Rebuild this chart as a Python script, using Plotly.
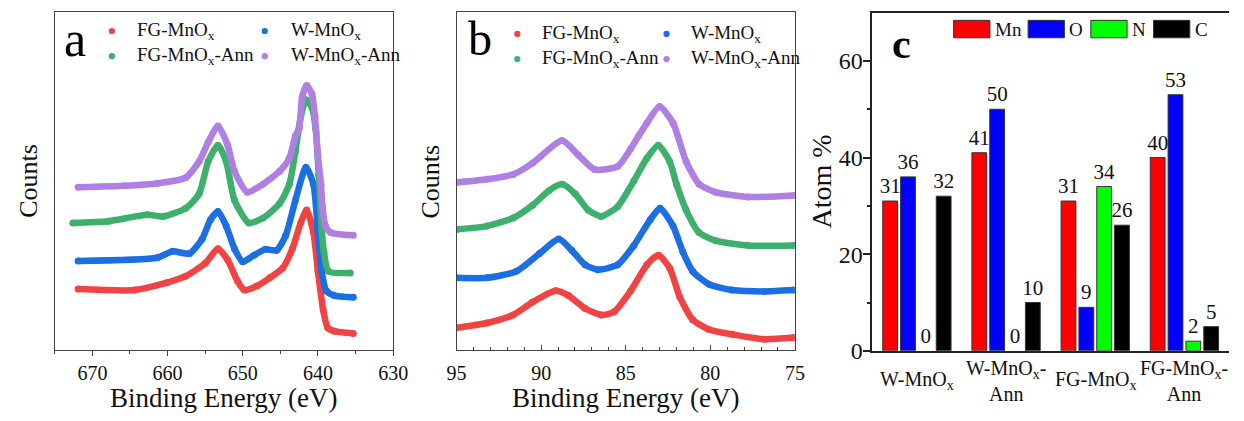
import plotly.graph_objects as go

# ---------------- Mn 2p region (panel a) ----------------
mn2p_be_fg = [671.9, 664.4, 660.1, 657.6, 655.0, 653.3, 652.0, 650.7, 649.8, 648.1, 646.4,
              644.7, 643.4, 642.3, 641.5, 640.6, 640.0, 639.3, 638.7, 637.8, 635.3]
mn2p_fg = [62.7, 61.7, 69.3, 76.0, 89.3, 104.3, 92.7, 71.0, 61.7, 66.0, 74.3,
           84.3, 104.3, 131.0, 144.3, 121.0, 81.0, 41.0, 22.7, 19.3, 17.0]

mn2p_be_w = [671.9, 661.4, 659.3, 657.1, 655.4, 654.3, 653.3, 652.2, 651.1, 650.0, 648.5,
             647.0, 645.5, 644.3, 643.0, 641.6, 640.6, 640.0, 639.5, 638.9, 637.8, 635.3]
mn2p_w = [91.7, 95.0, 101.7, 99.3, 114.3, 134.3, 142.7, 127.7, 104.3, 91.0, 97.7,
          103.7, 102.7, 117.7, 154.3, 188.3, 171.0, 121.0, 81.0, 61.0, 56.0, 54.3]

mn2p_be_fg_ann = [672.6, 667.9, 662.7, 660.6, 657.6, 655.8, 654.6, 653.3, 652.2, 651.1, 649.2,
                  647.3, 645.1, 643.8, 643.0, 642.3, 641.6, 640.8, 640.3, 639.9, 639.5, 639.2,
                  638.6, 635.7]
mn2p_fg_ann = [131.0, 132.7, 139.3, 137.7, 146.0, 161.0, 194.3, 211.0, 194.3, 154.3, 131.0,
               136.0, 151.0, 171.0, 205.0, 240.0, 258.0, 250.0, 228.0, 181.0, 124.3, 101.0,
               81.0, 79.3]

mn2p_be_w_ann = [671.9, 665.7, 661.4, 657.6, 655.8, 654.6, 653.3, 652.0, 651.1, 649.4, 647.3,
                 645.1, 643.8, 643.0, 642.5, 642.1, 641.5, 640.8, 640.4, 640.0, 639.6, 639.4,
                 639.0, 638.3, 635.3]
mn2p_w_ann = [167.7, 169.3, 171.7, 177.7, 194.3, 214.3, 231.0, 211.0, 184.3, 162.7, 171.0,
              184.3, 197.7, 221.0, 228.0, 261.0, 272.7, 264.0, 241.0, 200.0, 171.0, 147.7,
              127.7, 121.0, 118.3]

# ---------------- Mn 3s region (panel b) ----------------
mn3s_be_fg = [95.0, 93.2, 91.66, 90.5, 89.15, 88.38, 87.4, 86.45, 85.68, 84.7, 83.75, 83.07,
              82.4, 81.8, 81.04, 80.08, 78.7, 76.8, 75.06]
mn3s_fg = [22.7, 27.7, 36.0, 49.3, 61.0, 56.0, 42.7, 36.0, 39.3, 61.0, 87.7, 97.7,
           84.3, 54.3, 31.0, 21.0, 16.0, 11.0, 12.7]

mn3s_be_w = [95.0, 93.2, 91.47, 90.1, 88.96, 88.19, 87.4, 86.64, 85.48, 84.52, 83.55, 82.97,
             82.2, 81.62, 81.04, 80.08, 78.73, 76.8, 75.06]
mn3s_w = [74.3, 74.3, 81.0, 99.3, 114.3, 102.7, 87.7, 82.7, 87.7, 107.7, 134.3, 146.0,
          127.7, 101.0, 81.0, 67.7, 61.7, 60.3, 61.7]

mn3s_be_fg_ann = [95.0, 93.2, 91.66, 90.5, 89.54, 88.76, 87.99, 87.22, 86.45, 85.48, 84.52,
                  83.75, 83.07, 82.4, 82.0, 81.43, 80.66, 79.69, 77.76, 75.06]
mn3s_fg_ann = [124.3, 127.7, 136.0, 149.3, 164.3, 171.0, 161.0, 144.3, 137.7, 147.7, 174.3,
               197.7, 211.0, 194.3, 171.0, 144.3, 121.0, 112.7, 107.7, 107.7]

mn3s_be_w_ann = [95.0, 93.2, 91.66, 90.5, 88.76, 87.8, 86.83, 85.48, 84.7, 84.23, 83.75, 83.0,
                 82.2, 81.43, 80.66, 79.69, 77.76, 75.06]
mn3s_w_ann = [172.7, 176.0, 181.0, 192.7, 216.0, 201.0, 186.0, 189.3, 207.7, 221.0, 234.0, 251.0,
              234.0, 194.3, 171.0, 162.7, 157.7, 159.3]

# ---------------- Composition (panel c) ----------------
samples = ["W-MnOx", "W-MnOx-Ann", "FG-MnOx", "FG-MnOx-Ann"]
sample_labels = ["W-MnO<sub>x</sub>", "W-MnO<sub>x</sub>-<br>Ann",
                 "FG-MnO<sub>x</sub>", "FG-MnO<sub>x</sub>-<br>Ann"]
elements = ["Mn", "O", "N", "C"]
atom_mn = [31, 41, 31, 40]
atom_o = [36, 50, 9, 53]
atom_n = [0, 0, 34, 2]
atom_c = [32, 10, 26, 5]

series_names = ["FG-MnO<sub>x</sub>", "W-MnO<sub>x</sub>",
                "FG-MnO<sub>x</sub>-Ann", "W-MnO<sub>x</sub>-Ann"]

# ---------------- styling ----------------
W, H = 1244, 421
FONT = "Times New Roman, Liberation Serif, Tinos, serif"
AX = "#444444"
spec_colors = ["#F04343", "#1C6FE2", "#3CB06C", "#B07FE3"]
bar_colors = ["#FF0000", "#0000FF", "#00FF00", "#000000"]


def px(x):
    return x / W


def py(y):
    return 1 - y / H


fig = go.Figure()

spectra_a = [(mn2p_be_fg, mn2p_fg), (mn2p_be_w, mn2p_w),
             (mn2p_be_fg_ann, mn2p_fg_ann), (mn2p_be_w_ann, mn2p_w_ann)]
spectra_b = [(mn3s_be_fg, mn3s_fg), (mn3s_be_w, mn3s_w),
             (mn3s_be_fg_ann, mn3s_fg_ann), (mn3s_be_w_ann, mn3s_w_ann)]

for (be, cts), name, col in zip(spectra_a, series_names, spec_colors):
    fig.add_trace(go.Scatter(x=be, y=cts, mode="lines+markers", name=name,
                             line=dict(color=col, width=6.5, shape="spline", smoothing=0.6),
                             marker=dict(color=col, size=7), showlegend=False,
                             xaxis="x", yaxis="y"))
for (be, cts), name, col in zip(spectra_b, series_names, spec_colors):
    fig.add_trace(go.Scatter(x=be, y=cts, mode="lines+markers", name=name,
                             line=dict(color=col, width=6.5, shape="spline", smoothing=0.6),
                             marker=dict(color=col, size=7), showlegend=False,
                             xaxis="x2", yaxis="y2"))

for el, vals, col in zip(elements, [atom_mn, atom_o, atom_n, atom_c], bar_colors):
    fig.add_trace(go.Bar(x=list(range(len(samples))), y=vals, name=el,
                         marker=dict(color=col,
                                     line=dict(color="#333333",
                                               width=[1 if v > 0 else 0 for v in vals])),
                         text=vals, texttemplate="%{text}", textposition="outside",
                         constraintext="none",
                         textfont=dict(family=FONT, size=21, color="#111111"),
                         cliponaxis=False, showlegend=False,
                         xaxis="x3", yaxis="y3"))

ydom_ab = [py(361), py(12)]
ydom_c = [py(362), py(13)]

spec_x_common = dict(showline=True, mirror=True, linecolor=AX, linewidth=1.3,
                     showgrid=False, zeroline=False, ticklen=5,
                     tickwidth=1.2, tickcolor=AX,
                     tickfont=dict(family=FONT, size=20, color="#111111"))
spec_y_common = dict(showline=True, mirror=True, linecolor=AX, linewidth=1.3,
                     showgrid=False, zeroline=False, showticklabels=False, ticks="",
                     range=[0, 349])

fig.update_layout(
    width=W, height=H, margin=dict(l=0, r=0, t=0, b=0),
    paper_bgcolor="white", plot_bgcolor="white",
    font=dict(family=FONT, color="#111111"),
    barmode="group", bargap=0.2, bargroupgap=0.17,
    xaxis=dict(domain=[px(45.7), px(391)], range=[675, 630], anchor="y",
               tickvals=[670, 660, 650, 640, 630], ticks="outside",
               minor=dict(dtick=5, ticks="outside", ticklen=3, tickcolor=AX),
               **spec_x_common),
    yaxis=dict(domain=ydom_ab, anchor="x", **spec_y_common),
    xaxis2=dict(domain=[px(455.7), px(801)], range=[95, 75], anchor="y2",
                tickvals=[95, 90, 85, 80, 75], ticks="inside", ticklabelstandoff=5,
                minor=dict(dtick=1, ticks="inside", ticklen=3, tickcolor=AX),
                **spec_x_common),
    yaxis2=dict(domain=ydom_ab, anchor="x2", **spec_y_common),
    xaxis3=dict(domain=[px(880), 1.0], range=[-0.5, 3.5], anchor="y3",
                showline=True, mirror=True, linecolor="#222222", linewidth=1.5,
                showgrid=False, zeroline=False, showticklabels=False, ticks=""),
    yaxis3=dict(domain=ydom_c, range=[0, 70], anchor="x3",
                showline=True, mirror=False, linecolor="#222222", linewidth=1.5,
                showgrid=False, zeroline=False, ticks="outside", ticklen=8,
                tickwidth=1.5, tickcolor="#222222", tickvals=[0, 20, 40, 60],
                ticklabelstandoff=-5,
                minor=dict(tickvals=[10, 30, 50], ticks="outside", ticklen=4,
                           tickcolor="#222222"),
                tickfont=dict(family=FONT, size=24, color="#111111")),
)

ann = []
shapes = []

# axis titles
for xc in [218.3, 628.3]:
    ann.append(dict(text="Binding Energy (eV)", x=px(xc), y=py(411), xref="paper", yref="paper",
                    showarrow=False, xanchor="center", yanchor="middle",
                    font=dict(family=FONT, size=27, color="#111111")))
for xc in [19, 429]:
    ann.append(dict(text="Counts", x=px(xc), y=py(187), xref="paper", yref="paper",
                    textangle=-90, showarrow=False, xanchor="center", yanchor="middle",
                    font=dict(family=FONT, size=26, color="#111111")))
ann.append(dict(text="Atom %", x=px(828), y=py(187), xref="paper", yref="paper",
                textangle=-90, showarrow=False, xanchor="center", yanchor="middle",
                font=dict(family=FONT, size=28, color="#111111")))

# panel letters
ann.append(dict(text="a", x=px(66), y=py(40), xref="paper", yref="paper", showarrow=False,
                xanchor="center", yanchor="middle", font=dict(family=FONT, size=50, color="#000")))
ann.append(dict(text="b", x=px(480), y=py(40), xref="paper", yref="paper", showarrow=False,
                xanchor="center", yanchor="middle", font=dict(family=FONT, size=48, color="#000")))
ann.append(dict(text="<b>c</b>", x=px(910), y=py(45), xref="paper", yref="paper", showarrow=False,
                xanchor="center", yanchor="middle", font=dict(family=FONT, size=42, color="#000")))

# dot legends for the spectra panels (row-major: FG, W / FG-Ann, W-Ann)
legend_layout = {
    "a": dict(dot_x=[104, 260], text_x=[128, 285], rows=[32, 58]),
    "b": dict(dot_x=[517.7, 670], text_x=[540.7, 693.3], rows=[35, 61]),
}
for key, lay in legend_layout.items():
    for i, (name, col) in enumerate(zip(series_names, spec_colors)):
        r, c = divmod(i, 2)
        cx, cy = lay["dot_x"][c], lay["rows"][r]
        shapes.append(dict(type="circle", xref="paper", yref="paper",
                           x0=px(cx - 3.2), x1=px(cx + 3.2), y0=py(cy + 3.2), y1=py(cy - 3.2),
                           fillcolor=col, line=dict(width=0)))
        ann.append(dict(text=name, x=px(lay["text_x"][c]), y=py(cy), xref="paper", yref="paper",
                        showarrow=False, xanchor="left", yanchor="middle",
                        font=dict(family=FONT, size=19, color="#111111")))

# swatch legend for the composition panel
sw_x = [963, 1039, 1103, 1167]
for el, col, x0 in zip(elements, bar_colors, sw_x):
    shapes.append(dict(type="rect", xref="paper", yref="paper",
                       x0=px(x0), x1=px(x0 + 37), y0=py(39), y1=py(21),
                       fillcolor=col, line=dict(color="#333333", width=1)))
    ann.append(dict(text=el, x=px(x0 + 40), y=py(30), xref="paper", yref="paper",
                    showarrow=False, xanchor="left", yanchor="middle",
                    font=dict(family=FONT, size=19, color="#111111")))

# sample names under the bar groups
for i, lab in enumerate(sample_labels):
    ann.append(dict(text=lab, x=i, xref="x3", y=py(393), yref="paper", showarrow=False,
                    xanchor="center", yanchor="middle",
                    font=dict(family=FONT, size=20, color="#111111")))

fig.update_layout(annotations=ann, shapes=shapes)
fig.write_html("out.html")
